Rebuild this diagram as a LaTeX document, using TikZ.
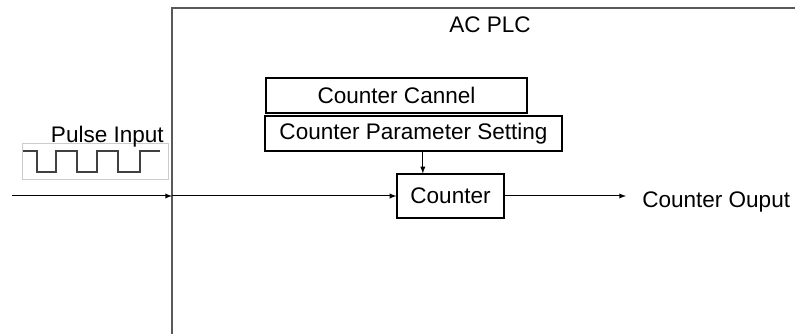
\documentclass[tikz,border=0pt]{standalone}
\usepackage{fontspec}
\setmainfont{Liberation Sans}
\begin{document}
\begin{tikzpicture}[
x=0.75pt, y=-0.75pt,
every node/.style={
font=\fontsize{16.9}{20}\selectfont
},
blk/.style={
draw,
line width=0.8pt,
inner sep=0pt,
minimum height=26.25pt
},
lbl/.style={
anchor=base west,
inner sep=0pt
}
]

\useasboundingbox (0,0) rectangle (795,334);

% PLC frame
\draw[line width=1.5pt, black!65] (172,340) -- (172,8) -- (800,8);

\node (plc) at (490,25)
{AC PLC};

\node[blk, minimum width=195.75pt] (cc) at (396.5,95.5)
{Counter Cannel};

\node[blk, minimum width=222.75pt] (par) at (413.5,133.5)
{Counter Parameter Setting};

\node[blk, minimum width=80.25pt, minimum height=33pt] (cnt) at (450.5,196)
{Counter};

% pulse input
\node[draw=black!20, minimum width=109.5pt, minimum height=27pt, inner sep=0pt] (pls) at (95,161) {};
\draw[line width=1.1pt, black!75] (23,151) -- (37,151) -- (37,172) -- (56,172) -- (56,151) -- (77,151) -- (77,172) -- (97,172) -- (97,151) -- (118,151) -- (118,172) -- (140,172) -- (140,151) -- (160,151);

\node[lbl, anchor=base east] (pin) at (164,143)
{Pulse Input};

\node[lbl] (cout) at (642,208)
{Counter Ouput};

\coordinate (src) at (12,196);
\coordinate (edge) at (172,196);
\coordinate (out) at (626,196);

\draw[-latex, line width=0.75pt] (src) -- (edge);
\draw[-latex, line width=0.75pt] (edge) -- (cnt);
\draw[-latex, line width=0.75pt] ([xshift=7pt]par.south) -- ([xshift=7pt]par.south |- cnt.north);
\draw[-latex, line width=0.75pt] (cnt) -- (out);

\end{tikzpicture}
\end{document}
